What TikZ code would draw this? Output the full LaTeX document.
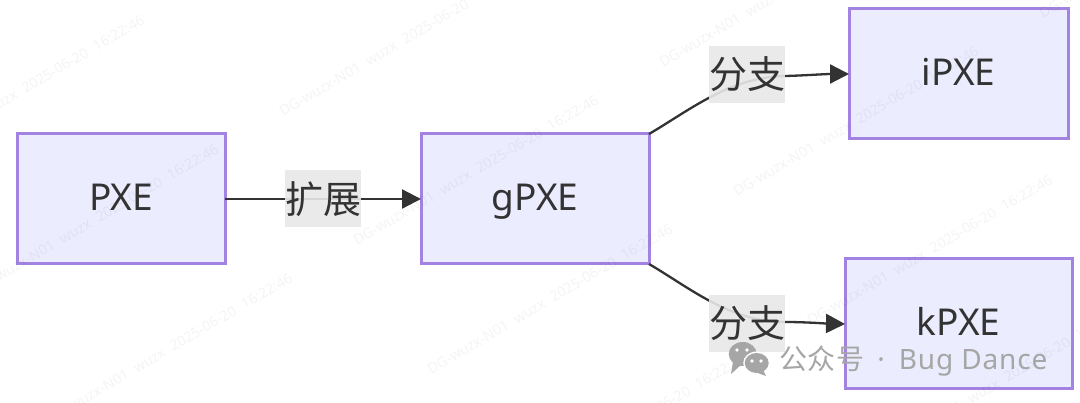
\documentclass[tikz,border=0pt]{standalone}
\usepackage{fontspec}
\setmainfont{Noto Sans}
\newfontfamily\cjk{Noto Sans CJK SC}
\usetikzlibrary{positioning,arrows.meta}
\definecolor{boxfill}{HTML}{ECECFF}
\definecolor{boxline}{HTML}{A283E2}
\definecolor{inkdark}{HTML}{333333}
\definecolor{tagfill}{HTML}{E8E8E8}
\definecolor{brandgray}{HTML}{A6A6A6}
\tikzset{
    pbox/.style={draw=boxline, fill=boxfill, line width=3pt, text=inkdark, outer sep=0pt, inner sep=0pt,
        minimum height=130pt, text height=24pt, text depth=0pt, font=\fontsize{37}{40}\selectfont},
    flow/.style={draw=inkdark, line width=2.3pt, -{Triangle[length=19pt,width=19pt]}},
    edgetag/.style={fill=tagfill, fill opacity=0.9, text opacity=1, text=inkdark, inner sep=0pt,
        minimum width=76pt, minimum height=57pt, font=\cjk\fontsize{38}{40}\selectfont},
    wmtext/.style={anchor=base west, rotate=30.5, inner sep=0pt, text=black, text opacity=0.045,
        font=\fontsize{14.3}{16}\selectfont}
}
\begin{document}
\begin{tikzpicture}[x=1pt, y=-1pt]
    \useasboundingbox (0,0) rectangle (1080,403);

    % Nodes
    \node (PXE) [pbox, minimum width=208pt] at (121,199) {PXE};
    \node (gPXE) [pbox, minimum width=228pt, right=196pt of PXE] {gPXE};
    \node (iPXE) [pbox, minimum width=219pt, above right=-5pt and 200pt of gPXE] {iPXE};
    \node (kPXE) [pbox, minimum width=227pt, below right=-5pt and 196pt of gPXE] {kPXE};

    % Arrows
    \draw[flow] (PXE) -- (gPXE);
    \draw[flow] (gPXE.north east) .. controls (690,110) and (730,77) .. (785,76)
        .. controls (805,75.5) and (825,74) .. (iPXE.west);
    \draw[flow] (gPXE.south east) .. controls (690,288) and (730,322) .. (785,322)
        .. controls (805,322) and (825,323.5) .. (kPXE.west);

    % Edge labels
    \node (extend) [edgetag, right=60pt of PXE] {扩展};
    \node (forkUp) [edgetag] at (747,74.5) {分支};
    \node (forkDown) [edgetag] at (747,323.5) {分支};

    % Faint stamps
    \foreach \wx/\wy [count=\wi] in {-97/166, -23/295, 51/424, 283/117, 357/246, 431/375, 505/504,
        663/68, 737/197, 811/326, 885/455, 1043/19}
        \node (stamp\wi) [wmtext] at (\wx,\wy) {DG-wuzx-N01\hspace{8pt}wuzx\hspace{8pt}2025-06-20\hspace{8pt}16:22:46};

    % Account mark
    \begin{scope}[brandgray]
        \fill (742.7,354) ellipse [x radius=14, y radius=12];
        \fill (733,362) -- (731,374) -- (742,364) -- cycle;
        \fill[white] (756.7,363) ellipse [x radius=13.5, y radius=11.5];
        \fill (756.7,363) ellipse [x radius=12, y radius=10];
        \fill (763,370) -- (766,376) -- (755,372) -- cycle;
        \foreach \ex/\ey in {737/350, 747/350, 752/361, 761/361}
            \fill[white] (\ex,\ey) circle [radius=1.8];
    \end{scope}
    \node (brand) [anchor=base west, inner sep=0pt, text=brandgray, font=\fontsize{28}{30}\selectfont] at (779,370)
        {{\cjk\addfontfeature{LetterSpace=2}公众号}\hspace{13pt}·\hspace{14pt}{\addfontfeature{LetterSpace=3}Bug Dance}};
\end{tikzpicture}
\end{document}
